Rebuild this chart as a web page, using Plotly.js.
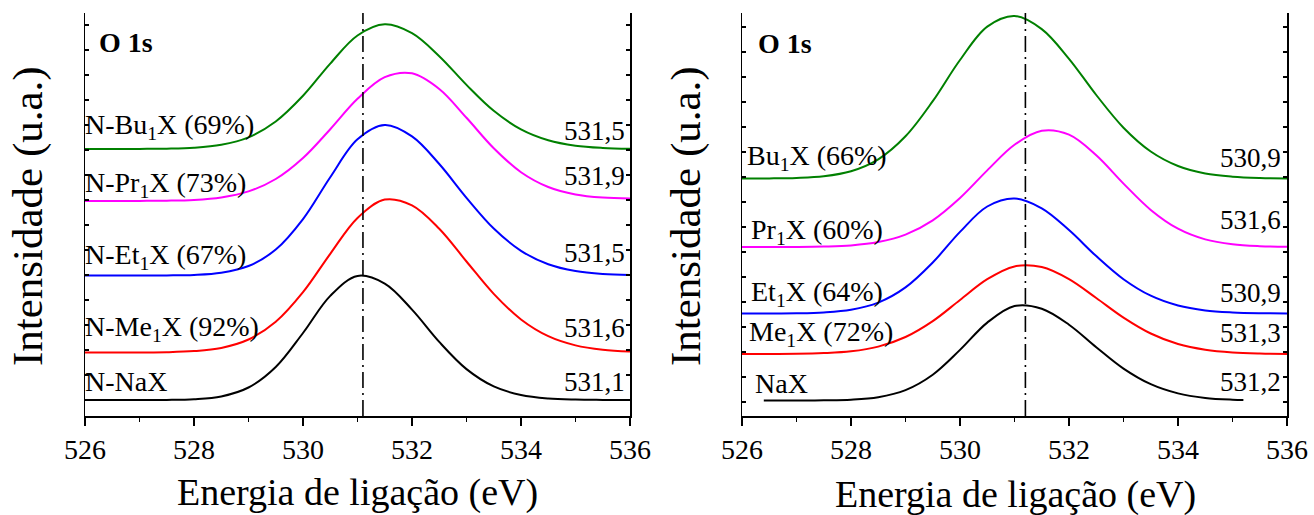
<!DOCTYPE html>
<html>
<head>
<meta charset="utf-8">
<script src="https://cdn.plot.ly/plotly-3.0.1.min.js"></script>
<style>html,body{margin:0;padding:0;background:#fff;}#chart{width:1314px;height:515px;}</style>
</head>
<body>
<div id="chart"></div>
<script>
// ---------- data (energy in eV, intensity in arbitrary units) ----------
const energy = [526,526.5,527,527.5,528,528.5,529,529.5,530,530.5,531,531.5,532,532.5,533,533.5,534,534.5,535,535.5,536];
const energyNaXRight = [526.4,527,527.5,528,528.5,529,529.5,530,530.5,531,531.5,532,532.5,533,533.5,534,534.5,535,535.2];

// left panel (N- samples)
const leftNaX  = [16,16,16,16.1,16.8,19.6,28.5,49,83,120.1,140.1,132.4,106.4,74.1,46.9,29.6,21,17.5,16.4,16.1,16];
const leftMe   = [63.5,63.5,63.6,63.8,64.9,68.1,76.5,94.2,123.8,162.2,198.1,216.4,210.6,187.2,154.5,122.1,96.5,79.8,70.6,66.2,64.4];
const leftEt   = [140.5,140.5,140.5,140.6,141.1,143.3,150,166.4,196.9,238.8,276.7,291,279.6,252,218.2,187.5,165.2,151.7,144.9,142,141];
const leftPr   = [215,215,215.1,215.3,216.1,218.6,224.6,237,258,286.8,317.2,338.8,342.7,327,298.2,267.8,243.8,229,221.5,218.4,217.4];
const leftBu   = [267,267,267.1,267.3,268.2,271.2,278.7,294.5,320.2,352.4,380.5,391.7,382.8,359.8,331.1,305.2,286.6,275.7,270.3,268.1,267.3];

// right panel
const rightNaX = [15.5,15.5,15.7,16.3,18.8,25.9,41.3,66.1,93.4,110,107.3,91.3,68.8,47.4,31.8,22.6,18.1,16.3,16];
const rightMe  = [62,62.1,62.2,62.9,64.7,69.4,79,94.9,116,136.8,149.6,149,136.9,118,98.4,82.5,72,66.3,63.6,62.5,62.1];
const rightEt  = [102.5,102.5,102.7,103.6,106.3,113.4,128.6,153.5,184.1,209.5,217.5,207.6,185.9,159.9,136.8,120.3,110.5,105.6,103.6,102.8,102.6];
const rightPr  = [169,169,169.1,169.5,170.6,173.9,181.4,195.7,218,245.6,271.2,285.2,281.3,260.7,232.4,206.1,187.3,176.6,171.7,169.8,169.2];
const rightBu  = [237.5,237.6,238.1,239.8,244.8,256.7,279.7,314.8,356,389.4,400.1,386.9,357.2,321,288.3,264.5,250,242.5,239.3,238,237.6];

// labels
const leftNames  = ['N-NaX','N-Me<sub>1</sub>X (92%)','N-Et<sub>1</sub>X (67%)','N-Pr<sub>1</sub>X (73%)','N-Bu<sub>1</sub>X (69%)'];
const leftPeaks  = ['531,1','531,6','531,5','531,9','531,5'];
const rightNames = ['NaX','Me<sub>1</sub>X (72%)','Et<sub>1</sub>X (64%)','Pr<sub>1</sub>X (60%)','Bu<sub>1</sub>X (66%)'];
const rightPeaks = ['531,2','531,3','530,9','531,6','530,9'];
const refEnergy  = [531.1, 531.2];
const panelTitle = 'O 1s';
const xTitle = 'Energia de ligação (eV)';
const yTitle = 'Intensidade (u.a.)';

// ---------- styling ----------
const colors = ['#000000','#ff0000','#0000ff','#ff00ff','#008000'];
const FONT = "Liberation Serif, Times New Roman, serif";

function tr(x, y, c, xa, ya) {
  return {x: x, y: y, xaxis: xa, yaxis: ya, type: 'scatter', mode: 'lines',
          line: {color: c, width: 2, shape: 'spline', smoothing: 1}, hoverinfo: 'skip'};
}
const traces = [
  tr(energy, leftNaX, colors[0], 'x', 'y'),
  tr(energy, leftMe,  colors[1], 'x', 'y'),
  tr(energy, leftEt,  colors[2], 'x', 'y'),
  tr(energy, leftPr,  colors[3], 'x', 'y'),
  tr(energy, leftBu,  colors[4], 'x', 'y'),
  tr(energyNaXRight, rightNaX, colors[0], 'x2', 'y2'),
  tr(energy, rightMe, colors[1], 'x2', 'y2'),
  tr(energy, rightEt, colors[2], 'x2', 'y2'),
  tr(energy, rightPr, colors[3], 'x2', 'y2'),
  tr(energy, rightBu, colors[4], 'x2', 'y2')
];

const leftLabelY  = [35, 88, 160, 232, 290];
const leftPeakY   = [34, 88, 163, 240, 285];
const rightLabelY = [33, 83, 123, 185, 259];
const rightLabelX = [526.2, 526.1, 526.12, 526.12, 526.06];
const rightPeakY  = [34, 83, 123, 196, 258];

const ann = [];
const nf = {family: FONT, size: 28, color: '#000'};
const vf = {family: FONT, size: 27, color: '#000'};
for (let i = 0; i < 5; i++) {
  ann.push({xref:'x', yref:'y', x:526.0, y:leftLabelY[i], xshift:-2, text:leftNames[i], showarrow:false, xanchor:'left', yanchor:'middle', font:nf});
  ann.push({xref:'x', yref:'y', x:535.95, y:leftPeakY[i], text:leftPeaks[i], showarrow:false, xanchor:'right', yanchor:'middle', font:vf});
  ann.push({xref:'x2', yref:'y2', x:rightLabelX[i], y:rightLabelY[i], text:rightNames[i], showarrow:false, xanchor:'left', yanchor:'middle', font:nf});
  ann.push({xref:'x2', yref:'y2', x:535.93, y:rightPeakY[i], text:rightPeaks[i], showarrow:false, xanchor:'right', yanchor:'middle', font:vf});
}
ann.push({xref:'x', yref:'y', x:526.22, y:374, text:'<b>'+panelTitle+'</b>', showarrow:false, xanchor:'left', yanchor:'middle', font:{family:FONT, size:28, color:'#000'}});
ann.push({xref:'x2', yref:'y2', x:526.26, y:373, text:'<b>'+panelTitle+'</b>', showarrow:false, xanchor:'left', yanchor:'middle', font:{family:FONT, size:28, color:'#000'}});
const xtFont = {family: FONT, size: 38, color: '#000'};
const ytFont = {family: FONT, size: 43, color: '#000'};
ann.push({xref:'paper', yref:'paper', x:357/1314, y:1-492/515, text:xTitle, showarrow:false, xanchor:'center', yanchor:'middle', font:xtFont});
ann.push({xref:'paper', yref:'paper', x:1015/1314, y:1-494/515, text:xTitle, showarrow:false, xanchor:'center', yanchor:'middle', font:xtFont});
ann.push({xref:'paper', yref:'paper', x:28/1314, y:1-216/515, text:yTitle, showarrow:false, xanchor:'center', yanchor:'middle', textangle:-90, font:ytFont});
ann.push({xref:'paper', yref:'paper', x:686/1314, y:1-216/515, text:yTitle, showarrow:false, xanchor:'center', yanchor:'middle', textangle:-90, font:ytFont});

const shapes = [
  {type:'line', xref:'x', yref:'y domain', x0:refEnergy[0], x1:refEnergy[0], y0:0, y1:1, line:{color:'#000', width:1.6, dash:'16px,5px,2px,5px'}},
  {type:'line', xref:'x2', yref:'y2 domain', x0:refEnergy[1], x1:refEnergy[1], y0:0, y1:1, line:{color:'#000', width:1.6, dash:'16px,5px,2px,5px'}}
];

const yDom = [(515-416)/515, (515-13)/515];
function xBottom(dom, yanchor) {
  return {domain: dom, range:[526,536], anchor: yanchor, tick0:526, dtick:2, ticks:'outside', ticklen:8, tickwidth:1.5,
          tickcolor:'#000', showline:true, linecolor:'#000', linewidth:1.5, showgrid:false, zeroline:false,
          minor:{dtick:1, ticks:'outside', ticklen:4, tickwidth:1.5, tickcolor:'#000', showgrid:false},
          tickfont:{family:FONT, size:28, color:'#000'}, fixedrange:true};
}
function xTop(over, yanchor) {
  return {overlaying: over, side:'top', range:[526,536], anchor: yanchor, tick0:526, dtick:1, ticks:'inside', ticklen:4,
          tickwidth:1.5, tickcolor:'#000', showline:true, linecolor:'#000', linewidth:1.5, showgrid:false, zeroline:false,
          showticklabels:false, fixedrange:true};
}
function yAx(xanchor, t0) {
  return {domain: yDom, range:[0,403], anchor: xanchor, tick0:t0, dtick:25, ticks:'inside', ticklen:4, tickwidth:1.5,
          tickcolor:'#000', showline:true, linecolor:'#000', linewidth:1.5, mirror:'ticks', showgrid:false,
          zeroline:false, showticklabels:false, fixedrange:true};
}

const layout = {
  width:1314, height:515, margin:{l:0, r:0, t:0, b:0}, paper_bgcolor:'#fff', plot_bgcolor:'#fff',
  showlegend:false,
  xaxis: xBottom([85/1314, 630/1314], 'y'),
  yaxis: yAx('x', 16),
  xaxis2: xBottom([742/1314, 1287/1314], 'y2'),
  yaxis2: yAx('x2', 14),
  xaxis3: xTop('x', 'y'),
  xaxis4: xTop('x2', 'y2'),
  annotations: ann,
  shapes: shapes
};

Plotly.newPlot('chart', traces, layout, {displayModeBar:false, staticPlot:true});
</script>
</body>
</html>
